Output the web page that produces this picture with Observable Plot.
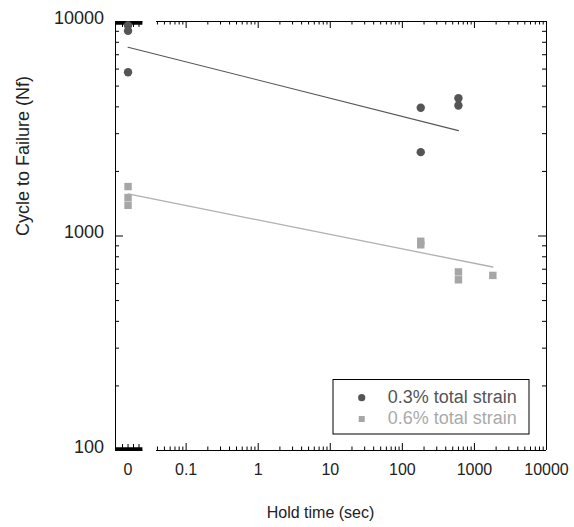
<!DOCTYPE html>
<html><head><meta charset="utf-8">
<script src="https://cdn.jsdelivr.net/npm/d3@7"></script>
<script src="https://cdn.jsdelivr.net/npm/@observablehq/plot@0.6"></script>
<style>body{margin:0;background:#fff}</style>
</head><body><div id="chart"></div>
<script>
// ---- data ----
const holdA = [0, 0, 0, 180, 180, 600, 600];
const nfA = [9580, 9040, 5800, 3960, 2460, 4390, 4060];
const holdB = [0, 0, 0, 180, 180, 600, 600, 1800];
const nfB = [1700, 1510, 1390, 945, 910, 680, 625, 655];
const fitHoldA = [0, 600];
const fitNfA = [7590, 3100];
const fitHoldB = [0, 1800];
const fitNfB = [1570, 717];
const xTickValues = [0, 0.1, 1, 10, 100, 1000, 10000];
const xTickLabels = ["0", "0.1", "1", "10", "100", "1000", "10000"];
const yTickValues = [100, 1000, 10000];
const yTickLabels = ["100", "1000", "10000"];
const seriesNames = ["0.3% total strain", "0.6% total strain"];
const xTitle = "Hold time (sec)";
const yTitle = "Cycle to Failure (Nf)";

// ---- layout (position units = log10 seconds, with a broken axis for 0) ----
const X_MIN = -1.98, X_MAX = 4, ZERO_POS = -1.806, SEG0_END = -1.60, SEG1_START = -1.41;
const pos = t => t === 0 ? ZERO_POS : Math.log10(t);
const colA = "#555555", colB = "#a6a6a6";
const font = "'Liberation Sans', Arial, sans-serif";

const dataA = holdA.map((h, i) => ({hold: h, nf: nfA[i]}));
const dataB = holdB.map((h, i) => ({hold: h, nf: nfB[i]}));
const fitA = fitHoldA.map((h, i) => ({hold: h, nf: fitNfA[i]}));
const fitB = fitHoldB.map((h, i) => ({hold: h, nf: fitNfB[i]}));

// minor/major tick positions
const xMajor = xTickValues.filter(v => v > 0).map(pos);
const xMinor = [];
for (let d = -2; d <= 3; d++) for (let m = 2; m <= 9; m++) {
  const p = Math.log10(m * Math.pow(10, d));
  if (p >= SEG1_START && p <= X_MAX) xMinor.push(p);
}
const zeroTicks = [-1.883, -1.806, -1.73, -1.654];
const yMinor = [];
for (let d = 2; d <= 3; d++) for (let m = 2; m <= 9; m++) yMinor.push(m * Math.pow(10, d));

const segs = [
  {y: 100, x1: X_MIN, x2: SEG0_END}, {y: 100, x1: SEG1_START, x2: X_MAX},
  {y: 10000, x1: X_MIN, x2: SEG0_END}, {y: 10000, x1: SEG1_START, x2: X_MAX}
];

const plot = Plot.plot({
  width: 574, height: 527,
  marginLeft: 115, marginRight: 28, marginTop: 21, marginBottom: 77,
  style: {fontFamily: font, background: "#fff", color: "#222"},
  x: {type: "linear", domain: [X_MIN, X_MAX], axis: null},
  y: {type: "log", domain: [100, 10000], axis: null},
  marks: [
    // frame
    Plot.ruleX([X_MIN, X_MAX], {x: d => d, stroke: "#000"}),
    Plot.ruleY(segs, {y: "y", x1: "x1", x2: "x2", stroke: "#000"}),
    // thick zero segment bars
    Plot.ruleY([100], {y: d => d, x1: X_MIN, x2: SEG0_END, stroke: "#000", strokeWidth: 3.5, dy: -1.5}),
    Plot.ruleY([10000], {y: d => d, x1: X_MIN, x2: SEG0_END, stroke: "#000", strokeWidth: 3.5, dy: 1.5}),
    // x ticks bottom
    Plot.ruleX(xMajor, {x: d => d, y1: 100, y2: 100, insetTop: -7, stroke: "#000"}),
    Plot.ruleX(xMinor, {x: d => d, y1: 100, y2: 100, insetTop: -3.5, stroke: "#000"}),
    Plot.ruleX(zeroTicks, {x: d => d, y1: 100, y2: 100, insetTop: -6, stroke: "#000"}),
    // x ticks top
    Plot.ruleX(xMajor, {x: d => d, y1: 10000, y2: 10000, insetBottom: -7, stroke: "#000"}),
    Plot.ruleX(xMinor, {x: d => d, y1: 10000, y2: 10000, insetBottom: -3.5, stroke: "#000"}),
    Plot.ruleX(zeroTicks, {x: d => d, y1: 10000, y2: 10000, insetBottom: -6, stroke: "#000"}),
    // y ticks left/right
    Plot.ruleY(yTickValues, {y: d => d, x1: X_MIN, x2: X_MIN, insetRight: -8, stroke: "#000"}),
    Plot.ruleY(yMinor, {y: d => d, x1: X_MIN, x2: X_MIN, insetRight: -4, stroke: "#000"}),
    Plot.ruleY(yTickValues, {y: d => d, x1: X_MAX, x2: X_MAX, insetLeft: -8, stroke: "#000"}),
    Plot.ruleY(yMinor, {y: d => d, x1: X_MAX, x2: X_MAX, insetLeft: -4, stroke: "#000"}),
    // data
    Plot.dot(dataA, {x: d => pos(d.hold), y: "nf", r: 4.2, fill: colA, stroke: "none"}),
    Plot.dot(dataB, {x: d => pos(d.hold), y: "nf", r: 4.2, symbol: "square", fill: colB, stroke: "none"}),
    Plot.line(fitA, {x: d => pos(d.hold), y: "nf", stroke: "#555", strokeWidth: 1.1}),
    Plot.line(fitB, {x: d => pos(d.hold), y: "nf", stroke: "#b0b0b0", strokeWidth: 1.3}),
    // tick labels
    Plot.text(xTickValues, {x: d => pos(d), y: 100, text: (d, i) => xTickLabels[i], dy: 19, fontSize: 16, fill: "#222"}),
    Plot.text(yTickValues, {x: X_MIN, y: d => d, text: (d, i) => yTickLabels[i], textAnchor: "end", dx: -11.5, dy: -3.5, fontSize: 18, fill: "#222", letterSpacing: "0.5px"}),
    // titles
    Plot.text([xTitle], {frameAnchor: "bottom", text: d => d, dx: -10.5, dy: 67, fontSize: 16, fill: "#222"}),
    Plot.text([yTitle], {frameAnchor: "left", text: d => d, rotate: -90, dx: -92, fontSize: 18, fill: "#222", letterSpacing: "0.4px"})
  ]
});
document.getElementById("chart").appendChild(plot);

// legend
const svg = d3.select(plot);
const lg = svg.append("g").attr("font-family", font).attr("text-anchor", "start");
lg.append("rect").attr("x", 333).attr("y", 379.5).attr("width", 196).attr("height", 54.5)
  .attr("fill", "#fff").attr("stroke", "#000");
lg.append("circle").attr("cx", 361.7).attr("cy", 397.7).attr("r", 3.6).attr("fill", colA);
lg.append("rect").attr("x", 358.7).attr("y", 416).attr("width", 6).attr("height", 6).attr("fill", colB);
lg.append("text").attr("x", 387.7).attr("y", 403).attr("font-size", 18).attr("fill", colA).attr("text-anchor", "start").text(seriesNames[0]);
lg.append("text").attr("x", 387.7).attr("y", 424).attr("font-size", 18).attr("fill", "#aaa").attr("text-anchor", "start").text(seriesNames[1]);
</script>
</body></html>
